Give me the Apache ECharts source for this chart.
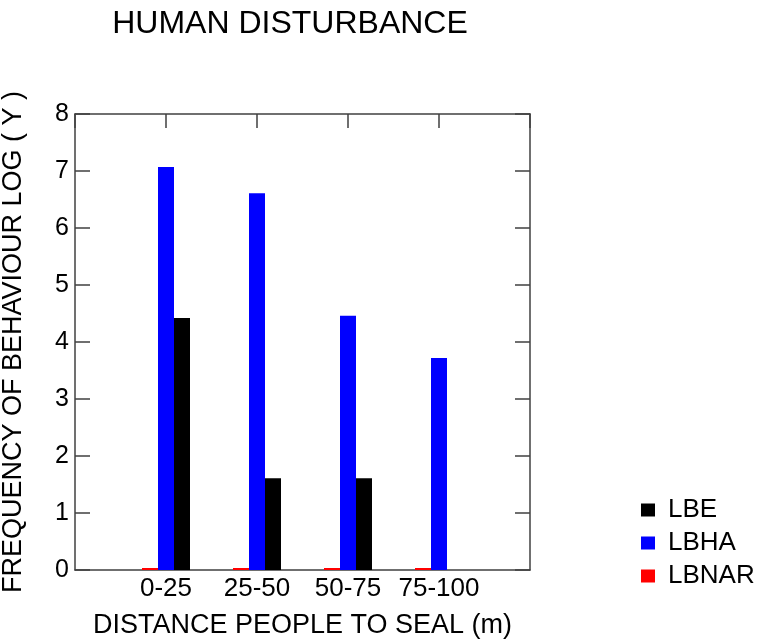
<!DOCTYPE html>
<html>
<head>
<meta charset="utf-8">
<script src="https://cdn.jsdelivr.net/npm/echarts@6/dist/echarts.min.js"></script>
<style>
  html, body { margin: 0; padding: 0; background: #fff; }
  #chart { width: 761px; height: 640px; }
</style>
</head>
<body>
<div id="chart"></div>
<script>
// categories padded with empty slots at each end so the frame spans 5 units
var categories = ['', '0-25', '25-50', '50-75', '75-100', ''];
var lbe = ['-', 4.42, 1.61, 1.61, 0, '-'];
var lbha = ['-', 7.07, 6.61, 4.46, 3.72, '-'];
var lbnar = ['-', 0, 0, 0, 0, '-'];
var yTicks = [0, 1, 2, 3, 4, 5, 6, 7, 8];

var fontFam = 'Liberation Sans, Arial, sans-serif';
var lineCol = '#404040';

var chart = echarts.init(document.getElementById('chart'));

var option = {
    animation: false,
    title: {
        text: 'HUMAN DISTURBANCE',
        left: 285,
        textAlign: 'center',
        top: 3,
        textStyle: { fontFamily: fontFam, fontWeight: 'normal', fontSize: 32, color: '#000' }
    },
    legend: {
        data: ['LBE', 'LBHA', 'LBNAR'],
        orient: 'vertical',
        left: 636,
        top: 492,
        itemWidth: 14,
        itemHeight: 13,
        itemGap: 7,
        icon: 'rect',
        textStyle: { fontFamily: fontFam, fontSize: 26, color: '#000', padding: [0, 0, 0, 8] }
    },
    grid: { left: 75, top: 114, width: 455, height: 456, outerBoundsMode: 'none' },
    xAxis: [{
        type: 'category',
        data: categories,
        boundaryGap: false,
        position: 'bottom',
        name: 'DISTANCE PEOPLE TO SEAL (m)',
        nameLocation: 'middle',
        nameGap: 42,
        nameTextStyle: { fontFamily: fontFam, fontSize: 27, color: '#000' },
        axisLine: { onZero: false, lineStyle: { color: lineCol, width: 1.5 } },
        axisTick: { show: false },
        axisLabel: { fontFamily: fontFam, fontSize: 26, color: '#000', margin: 6, interval: 0 }
    }, {
        type: 'category',
        data: categories,
        boundaryGap: false,
        position: 'top',
        axisLine: { onZero: false, lineStyle: { color: lineCol, width: 1.5 } },
        axisTick: { inside: true, length: 14, lineStyle: { color: lineCol, width: 1.5 } },
        axisLabel: { show: false }
    }],
    yAxis: [{
        type: 'value',
        min: 0,
        max: 8,
        interval: 1,
        position: 'left',
        name: 'FREQUENCY OF BEHAVIOUR LOG ( Y )',
        nameLocation: 'middle',
        nameGap: 48,
        nameTextStyle: { fontFamily: fontFam, fontSize: 27, color: '#000' },
        axisLine: { show: true, onZero: false, lineStyle: { color: lineCol, width: 1.5 } },
        axisTick: { show: true, inside: true, length: 15, lineStyle: { color: lineCol, width: 1.5 } },
        splitLine: { show: false },
        axisLabel: {
            fontFamily: fontFam, fontSize: 25, color: '#000', margin: 6,
            formatter: function (v) { return yTicks.indexOf(v) >= 0 ? String(v) : ''; }
        }
    }, {
        type: 'value',
        min: 0,
        max: 8,
        interval: 1,
        position: 'right',
        axisLine: { show: true, onZero: false, lineStyle: { color: lineCol, width: 1.5 } },
        axisTick: { show: true, inside: true, length: 15, lineStyle: { color: lineCol, width: 1.5 } },
        splitLine: { show: false },
        axisLabel: { show: false }
    }],
    series: [{
        name: 'LBNAR',
        type: 'bar',
        data: lbnar,
        barWidth: 16,
        barGap: '0%',
        barMinHeight: 2,
        itemStyle: { color: '#ff0000' }
    }, {
        name: 'LBHA',
        type: 'bar',
        data: lbha,
        barWidth: 16,
        barGap: '0%',
        itemStyle: { color: '#0000ff' }
    }, {
        name: 'LBE',
        type: 'bar',
        data: lbe,
        barWidth: 16,
        barGap: '0%',
        itemStyle: { color: '#000000' }
    }]
};

chart.setOption(option);
</script>
</body>
</html>
